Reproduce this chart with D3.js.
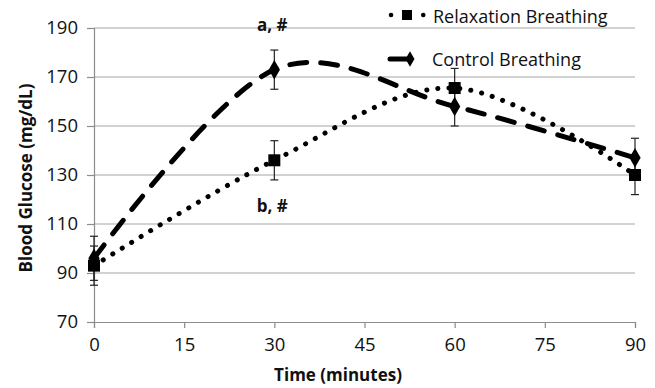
<!DOCTYPE html>
<html>
<head>
<meta charset="utf-8">
<script src="https://cdn.jsdelivr.net/npm/d3@7"></script>
<style>
  body { margin: 0; background: #fff; }
  text { font-family: "Open Sans", sans-serif; fill: #111; }
</style>
</head>
<body>
<script>
const times = [0, 30, 60, 90];
const relaxation = [93, 136, 165.5, 130];
const relaxationErr = [8, 8, 8, 8];
const control = [96, 173, 158, 137];
const controlErr = [9, 8, 8, 8];
const xTicks = [0, 15, 30, 45, 60, 75, 90];
const yTicks = [70, 90, 110, 130, 150, 170, 190];

const width = 655, height = 388;
const margin = {left: 94, right: 20, top: 28, bottom: 66};

const svg = d3.select("body").append("svg")
    .attr("width", width)
    .attr("height", height);

const x = d3.scaleLinear().domain([0, 90]).range([margin.left, width - margin.right]);
const y = d3.scaleLinear().domain([70, 190]).range([height - margin.bottom, margin.top]);

// gridlines
svg.append("g").selectAll("line")
    .data(yTicks.slice(1))
    .join("line")
    .attr("x1", x(0)).attr("x2", x(90))
    .attr("y1", d => y(d)).attr("y2", d => y(d))
    .attr("stroke", "#a6a6a6").attr("stroke-width", 1.2);

// axes
const xAxis = svg.append("g")
    .attr("transform", "translate(0," + y(70) + ")")
    .call(d3.axisBottom(x).tickValues(xTicks).tickSize(6).tickPadding(10));
const yAxis = svg.append("g")
    .attr("transform", "translate(" + x(0) + ",0)")
    .call(d3.axisLeft(y).tickValues(yTicks).tickSize(7).tickPadding(9));

[xAxis, yAxis].forEach(function (a) {
    a.select(".domain").attr("stroke", "#8c8c8c").attr("stroke-width", 1.2);
    a.selectAll(".tick line").attr("stroke", "#8c8c8c").attr("stroke-width", 1.2);
    a.selectAll(".tick text")
        .attr("font-family", "Open Sans, sans-serif")
        .attr("font-size", 18.5)
        .attr("fill", "#111");
});

// axis titles
svg.append("text")
    .attr("x", 338).attr("y", 381)
    .attr("text-anchor", "middle")
    .attr("font-size", 17).attr("font-weight", "bold")
    .text("Time (minutes)");

svg.append("text")
    .attr("transform", "translate(32," + 178 + ") rotate(-90)")
    .attr("text-anchor", "middle")
    .attr("font-size", 17).attr("font-weight", "bold")
    .text("Blood Glucose  (mg/dL)");

const line = d3.line().x((d, i) => x(times[i])).y(d => y(d)).curve(d3.curveCardinal.tension(0));

// error bars
function errorBars(values, errs) {
    const g = svg.append("g").attr("stroke", "#222").attr("stroke-width", 1.2);
    values.forEach(function (v, i) {
        const cx = x(times[i]);
        g.append("line").attr("x1", cx).attr("x2", cx).attr("y1", y(v - errs[i])).attr("y2", y(v + errs[i]));
        g.append("line").attr("x1", cx - 4).attr("x2", cx + 4).attr("y1", y(v - errs[i])).attr("y2", y(v - errs[i]));
        g.append("line").attr("x1", cx - 4).attr("x2", cx + 4).attr("y1", y(v + errs[i])).attr("y2", y(v + errs[i]));
    });
}
errorBars(relaxation, relaxationErr);
errorBars(control, controlErr);

// control breathing - dashed
svg.append("path")
    .attr("d", line(control))
    .attr("fill", "none")
    .attr("stroke", "#000")
    .attr("stroke-width", 5)
    .attr("stroke-linecap", "round")
    .attr("stroke-dasharray", "17,14");

// relaxation breathing - dotted
svg.append("path")
    .attr("d", line(relaxation))
    .attr("fill", "none")
    .attr("stroke", "#000")
    .attr("stroke-width", 5)
    .attr("stroke-linecap", "round")
    .attr("stroke-dasharray", "0.1,11");

// markers
svg.append("g").selectAll("path")
    .data(control)
    .join("path")
    .attr("transform", (d, i) => "translate(" + x(times[i]) + "," + y(d) + ")")
    .attr("d", d3.symbol(d3.symbolDiamond, 110))
    .attr("fill", "#000");

svg.append("g").selectAll("rect")
    .data(relaxation)
    .join("rect")
    .attr("x", (d, i) => x(times[i]) - 6)
    .attr("y", d => y(d) - 6)
    .attr("width", 12).attr("height", 12)
    .attr("fill", "#000");

// significance labels
svg.append("text").attr("x", x(30) - 2).attr("y", 31)
    .attr("text-anchor", "middle").attr("font-size", 17).attr("font-weight", "bold")
    .text("a, #");
svg.append("text").attr("x", x(30) - 2).attr("y", 212)
    .attr("text-anchor", "middle").attr("font-size", 17).attr("font-weight", "bold")
    .text("b, #");

// legend
const leg = svg.append("g");
leg.append("line").attr("x1", 391).attr("x2", 424).attr("y1", 15).attr("y2", 15)
    .attr("stroke", "#000").attr("stroke-width", 4.5)
    .attr("stroke-linecap", "round").attr("stroke-dasharray", "0.1,16");
leg.append("rect").attr("x", 402).attr("y", 10).attr("width", 10).attr("height", 10).attr("fill", "#000");
leg.append("text").attr("x", 433).attr("y", 23).attr("font-size", 18).text("Relaxation Breathing");

leg.append("line").attr("x1", 390).attr("x2", 410).attr("y1", 59).attr("y2", 59)
    .attr("stroke", "#000").attr("stroke-width", 5).attr("stroke-linecap", "round");
leg.append("path").attr("transform", "translate(410,59)")
    .attr("d", d3.symbol(d3.symbolDiamond, 70)).attr("fill", "#000");
leg.append("text").attr("x", 432).attr("y", 66).attr("font-size", 18).text("Control Breathing");
</script>
</body>
</html>
